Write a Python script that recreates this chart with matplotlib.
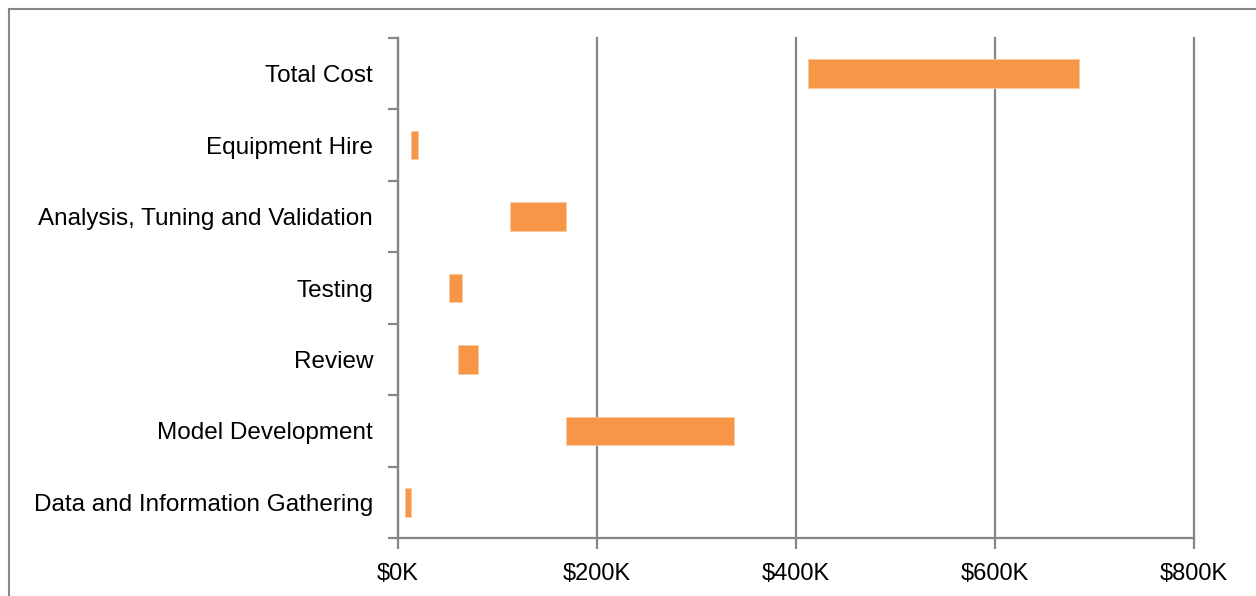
import numpy as np
import matplotlib.pyplot as plt
from matplotlib.patches import Rectangle
from matplotlib.ticker import FuncFormatter, MultipleLocator

# project cost phases, in $K: where each phase starts and how much it adds
phases = ['Data and Information Gathering', 'Model Development', 'Review',
          'Testing', 'Analysis, Tuning and Validation', 'Equipment Hire',
          'Total Cost']
start = [7, 169, 60, 51, 113, 13, 412]
cost = [6, 169, 20, 13, 56, 7, 272]

plt.rcParams['font.family'] = ['Liberation Sans', 'DejaVu Sans']

fig = plt.figure(figsize=(12.56, 5.96), dpi=100)
ax = fig.add_axes([398/1256, 1-538/596, 796/1256, 500/596])

grey = '#868686'
y = np.arange(len(phases))
# invisible base + visible segment, like a stacked bar with the first series hidden
ax.barh(y, start, height=0.4, color='none')
ax.barh(y, cost, left=start, height=0.4, color='#f79646',
        edgecolor='#fbc9a0', linewidth=0.6, zorder=3)

ax.set_xlim(0, 800)
ax.set_ylim(-0.5, len(phases)-0.5)
ax.xaxis.set_major_locator(MultipleLocator(200))
ax.xaxis.set_major_formatter(FuncFormatter(lambda v, p: '${:.0f}K'.format(v)))
ax.grid(axis='x', color=grey, linewidth=1.6, zorder=0)
for gl in ax.get_xgridlines():
    gl.set_clip_on(False)

# category labels sit between the ticks
ax.set_yticks(np.arange(len(phases)+1)-0.5)
ax.set_yticklabels([])
ax.set_yticks(y, minor=True)
ax.set_yticklabels(phases, minor=True, fontsize=17.5)
ax.tick_params(axis='y', which='minor', length=0, pad=18)
ax.tick_params(axis='y', which='major', length=7, width=1.6, color=grey)
ax.tick_params(axis='x', length=8, width=1.6, color=grey, labelsize=17, pad=10)

for s in ['top', 'right']:
    ax.spines[s].set_visible(False)
for s in ['left', 'bottom']:
    ax.spines[s].set_color(grey)
    ax.spines[s].set_linewidth(1.6)

# chart area frame
fig.patches.append(Rectangle((9/1256, -0.1), 1.2, 1-9/596+0.1,
                             transform=fig.transFigure, fill=False,
                             edgecolor=grey, linewidth=1.5))

fig.savefig('out.png', dpi=100)
